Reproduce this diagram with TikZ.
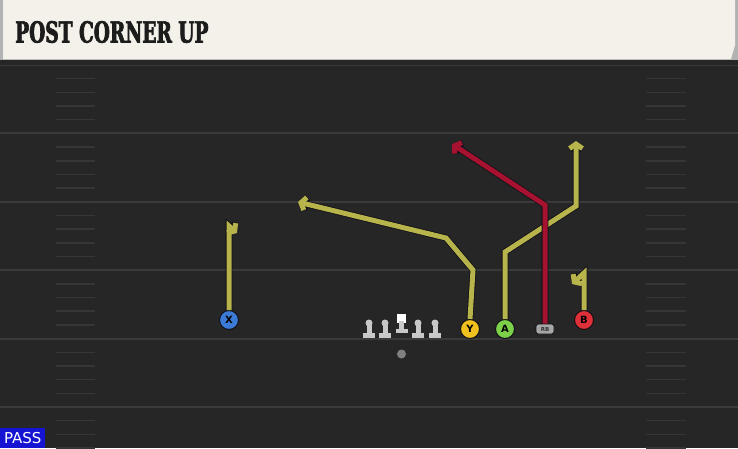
\documentclass[tikz,border=0pt]{standalone}
\usepackage{fontspec}
\setmainfont{DejaVu Sans}
\newfontfamily\titlefont{DejaVu Serif Bold}[FakeStretch=0.64, FakeBold=2.2]
\usetikzlibrary{arrows.meta}
\definecolor{fieldbg}{HTML}{262626}
\definecolor{fieldline}{HTML}{3A3A3A}
\definecolor{hashline}{HTML}{363636}
\definecolor{barcream}{HTML}{F4F1EA}
\definecolor{titleink}{HTML}{1C1C1C}
\definecolor{routeyellow}{HTML}{B8B44C}
\definecolor{routered}{HTML}{A6122F}
\definecolor{routeedge}{HTML}{101018}
\definecolor{xblue}{HTML}{3B7BD6}
\definecolor{yyellow}{HTML}{F0C01E}
\definecolor{agreen}{HTML}{7CD04A}
\definecolor{bred}{HTML}{DE3038}
\definecolor{linegrey}{HTML}{C8C8C8}
\definecolor{passblue}{HTML}{1414D2}
\tikzset{
  route/.style={line width=5pt, draw=routeyellow, -{Straight Barb[length=4.5pt,width=13pt]},
    preaction={draw=routeedge, line width=6.6pt, -{Straight Barb[length=4.5pt,width=13pt]}}},
  hotroute/.style={route, draw=routered},
  player/.style={circle, draw=routeedge, line width=1pt, minimum size=19pt, inner sep=0pt,
    text=black, font=\bfseries\fontsize{10}{10}\selectfont},
  rbbox/.style={rounded corners=2.5pt, draw=routeedge, fill=gray!70, line width=0.7pt,
    minimum width=18pt, minimum height=10pt, inner sep=0pt, text=black!80,
    font=\bfseries\fontsize{5.5}{5.5}\selectfont},
}
\begin{document}
\begin{tikzpicture}[x=1pt,y=-1pt]
\useasboundingbox (0,0) rectangle (738,448);
% field
\fill[fieldbg] (0,0) rectangle (738,448);
\foreach \k in {0,...,5}{
  \draw[fieldline,line width=2pt] (0,65+68.4*\k) -- (738,65+68.4*\k);
  \foreach \j in {1,...,4}{
    \draw[hashline,line width=1.5pt] (56,65+68.4*\k+13.68*\j) -- (95,65+68.4*\k+13.68*\j);
    \draw[hashline,line width=1.5pt] (646,65+68.4*\k+13.68*\j) -- (686,65+68.4*\k+13.68*\j);
  }
}
% title bar
\fill[black!85] (0,59) rectangle (738,65);
\fill[gray!60] (0,0) rectangle (738,60);
\fill[barcream] (3,0) -- (735,0) -- (735,45) -- (731,59) -- (3,59) -- cycle;
\node[anchor=west, text=titleink, inner sep=0pt,
  font=\titlefont\fontsize{29}{29}\selectfont] (title) at (15,32) {POST CORNER UP};
% line
\foreach \lx in {369,385,418,435}{
  \fill[linegrey] (\lx-2.5,323) rectangle (\lx+2.5,334);
  \fill[linegrey] (\lx,323) circle [radius=3.5pt];
  \fill[linegrey] (\lx-6,333) rectangle (\lx+6,338);
}
\fill[white] (397,313.5) rectangle (406,322.5);
\fill[linegrey] (399,321) rectangle (404,330);
\fill[linegrey] (395.5,329) rectangle (407.5,333);
\fill[gray] (401.5,354) circle [radius=4.5pt];
% players
\node[player, fill=xblue] (X) at (229,320) {X};
\node[player, fill=yyellow] (Y) at (470,329) {Y};
\node[player, fill=agreen] (A) at (505,329) {A};
\node[rbbox] (RB) at (545,329) {RB};
\node[player, fill=bred] (B) at (584,320) {B};
% routes
\draw[route] (X.north) -- (229,226) -- (237,233);
\draw[route] (Y.north) -- (473,270) -- (446,238) -- (298,202);
\draw[route] (A.north) -- (505,252) -- (576,206) -- (576,141);
\draw[hotroute] (RB.north) -- (545,205) -- (452,144);
\draw[route] (B.north) -- (584,273) -- (572,284);
% pass tag
\node[fill=passblue, text=white, anchor=south west, minimum width=45pt, minimum height=20pt,
  inner sep=0pt, font=\fontsize{15}{15}\selectfont] (pass) at (0,448) {PASS};
\end{tikzpicture}
\end{document}
